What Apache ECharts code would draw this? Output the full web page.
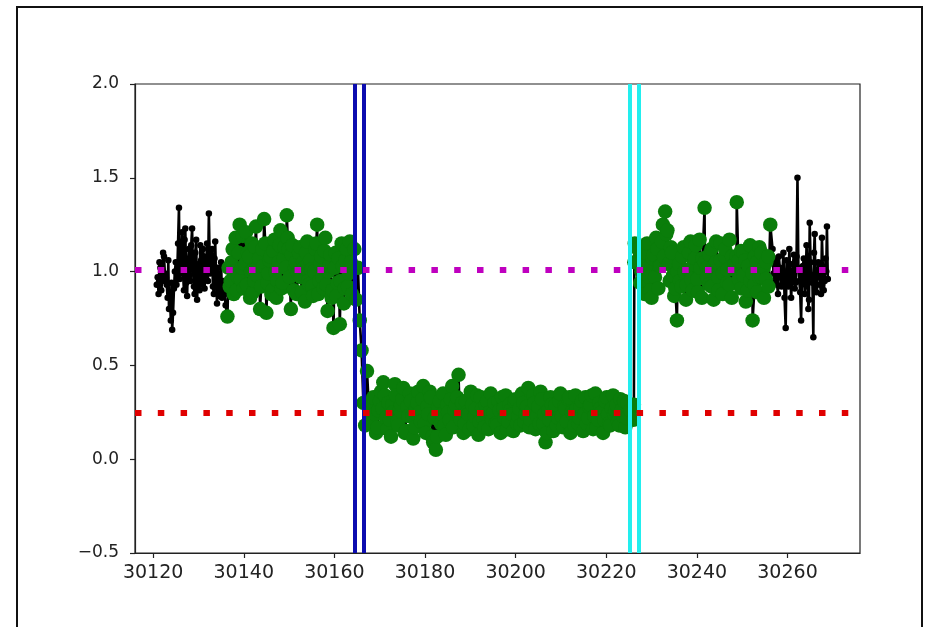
<!DOCTYPE html>
<html>
<head>
<meta charset="utf-8">
<script src="https://cdn.jsdelivr.net/npm/echarts@6/dist/echarts.min.js"></script>
<style>
html,body{margin:0;padding:0;background:#fff;}
#chart{width:940px;height:627px;}
</style>
</head>
<body>
<div id="chart"></div>
<script>
// ---- data ----
// black-only points before the green window
const preTime = [30120.8,30121.2,30121.6,30122.0,30122.4,30122.8,30123.2,30123.5,30123.9,30124.2,30124.6,30125.0,30125.3,30125.7,30126.0,30126.4,30126.8,30127.1,30127.5,30127.9,30128.2,30128.6,30129.0,30129.3,30129.7,30130.1,30130.4,30130.8,30131.2,30131.5,30131.9,30132.3,30132.6,30133.0,30133.4,30133.7,30134.1,30134.5,30134.8,30135.2,30135.6,30136.0];
const preFlux = [0.93,0.88,1.02,0.95,1.08,0.97,0.86,0.80,0.74,0.69,0.91,1.05,0.98,1.34,1.02,1.21,0.90,1.23,0.87,1.12,0.95,1.23,0.92,1.10,0.85,1.04,1.14,0.93,1.08,0.98,1.15,1.31,0.99,1.12,0.88,1.16,0.83,0.97,0.90,0.86,0.95,0.82];
const preTime2 = [30121.0,30121.4,30121.8,30122.2,30122.6,30123.0,30123.35,30123.7,30124.05,30124.4,30124.8,30125.15,30125.5,30125.85,30126.2,30126.6,30126.95,30127.3,30127.7,30128.05,30128.4,30128.8,30129.15,30129.5,30129.9,30130.25,30130.6,30131.0,30131.35,30131.7,30132.1,30132.45,30132.8,30133.2,30133.55,30133.9,30134.3,30134.65,30135.0,30135.4,30135.8];
const preFlux2 = [0.97,1.05,0.90,1.10,0.99,0.93,1.06,0.89,0.94,0.78,1.00,0.93,1.15,0.96,1.08,0.99,1.17,0.94,1.06,0.98,1.14,1.01,0.88,1.17,0.97,0.90,1.06,1.12,0.91,1.03,0.95,1.11,1.04,0.92,1.07,0.96,1.02,0.87,1.05,0.92,0.88];

// green window, out of transit before ingress (incl. ingress)
const outATime = [30136.4,30136.9,30137.3,30137.8,30138.2,30138.7,30139.1,30139.6,30140.0,30140.5,30140.9,30141.4,30141.8,30142.3,30142.7,30143.2,30143.6,30144.1,30144.5,30145.0,30145.4,30145.9,30146.3,30146.8,30147.2,30147.7,30148.1,30148.6,30149.0,30149.5,30149.9,30150.4,30150.8,30151.3,30151.7,30152.2,30152.6,30153.1,30153.5,30154.0,30154.4,30154.9,30155.3,30155.8,30156.2,30156.7,30157.1,30157.6,30158.0,30158.5,30158.9,30159.4,30159.8,30160.3,30160.7,30161.2,30161.6,30162.1,30162.5,30163.0,30163.4,30163.9,30164.4,30164.8,30165.2,30165.6,30166.0,30166.4,30166.8,30167.2];
const outAFlux = [0.76,0.92,1.05,0.88,1.18,0.97,1.25,1.02,0.91,1.21,1.10,0.86,1.15,0.95,1.24,1.03,0.80,1.12,1.28,0.78,0.99,1.08,0.90,1.17,0.86,1.05,1.22,0.94,1.13,1.30,1.12,0.80,1.14,1.02,0.88,1.10,0.97,1.05,0.84,1.16,0.93,1.01,0.87,1.12,1.25,0.95,1.08,0.91,1.18,0.79,1.03,0.86,0.70,1.10,0.94,0.72,1.15,0.83,1.06,0.92,1.16,0.88,1.12,0.85,1.02,0.74,0.58,0.30,0.18,0.47];
const outATime2 = [30136.65,30137.10,30137.55,30138.00,30138.45,30138.90,30139.35,30139.80,30140.25,30140.70,30141.15,30141.60,30142.05,30142.50,30142.95,30143.40,30143.85,30144.30,30144.75,30145.20,30145.65,30146.10,30146.55,30147.00,30147.45,30147.90,30148.35,30148.80,30149.25,30149.70,30150.15,30150.60,30151.05,30151.50,30151.95,30152.40,30152.85,30153.30,30153.75,30154.20,30154.65,30155.10,30155.55,30156.00,30156.45,30156.90,30157.35,30157.80,30158.25,30158.70,30159.15,30159.60,30160.05,30160.50,30160.95,30161.40,30161.85,30162.30,30162.75,30163.20,30163.65];
const outAFlux2 = [1.02,0.95,1.12,1.00,0.90,1.10,0.96,1.19,1.04,0.93,1.08,1.00,0.89,1.13,0.98,1.07,0.92,1.03,1.15,0.94,1.06,0.88,1.11,1.00,0.95,1.14,0.91,1.07,1.02,1.18,0.97,1.09,0.90,1.05,0.99,1.13,0.89,1.02,1.10,0.95,1.06,0.92,1.00,1.15,0.88,1.04,0.97,1.11,0.93,1.00,1.09,0.90,1.02,0.87,1.07,0.95,1.03,0.91,1.12,0.99,1.05];

// in transit (incl. egress)
const inTime = [30167.6,30168.1,30168.6,30169.2,30169.7,30170.3,30170.8,30171.4,30171.9,30172.5,30173.0,30173.6,30174.1,30174.7,30175.2,30175.8,30176.3,30176.9,30177.4,30178.0,30178.5,30179.1,30179.6,30180.2,30180.7,30181.3,30181.8,30182.4,30182.9,30183.5,30184.0,30184.6,30185.1,30185.7,30186.2,30186.8,30187.4,30187.9,30188.5,30189.0,30189.6,30190.1,30190.7,30191.2,30191.8,30192.3,30192.9,30193.4,30194.0,30194.5,30195.1,30195.6,30196.2,30196.7,30197.3,30197.8,30198.4,30198.9,30199.5,30200.0,30200.6,30201.1,30201.7,30202.2,30202.8,30203.3,30203.9,30204.4,30205.0,30205.5,30206.1,30206.6,30207.2,30207.7,30208.3,30208.8,30209.4,30209.9,30210.5,30211.0,30211.6,30212.1,30212.7,30213.2,30213.8,30214.3,30214.9,30215.4,30216.0,30216.5,30217.1,30217.6,30218.2,30218.7,30219.3,30219.8,30220.4,30220.9,30221.5,30222.0,30222.6,30223.1,30223.7,30224.2,30224.7,30225.3,30226.0,30226.1,30226.2,30226.3];
const inFlux = [0.28,0.19,0.33,0.14,0.26,0.36,0.41,0.22,0.30,0.12,0.25,0.34,0.18,0.29,0.38,0.15,0.23,0.31,0.11,0.27,0.36,0.20,0.39,0.14,0.24,0.33,0.09,0.05,0.28,0.19,0.35,0.13,0.25,0.32,0.17,0.29,0.45,0.21,0.14,0.31,0.24,0.36,0.18,0.27,0.13,0.33,0.22,0.29,0.16,0.35,0.25,0.19,0.31,0.14,0.27,0.34,0.20,0.26,0.15,0.32,0.23,0.18,0.30,0.24,0.38,0.21,0.34,0.16,0.28,0.36,0.19,0.09,0.26,0.33,0.15,0.29,0.22,0.35,0.17,0.27,0.32,0.14,0.24,0.34,0.19,0.28,0.15,0.33,0.22,0.29,0.16,0.35,0.21,0.27,0.14,0.31,0.24,0.18,0.34,0.26,0.20,0.32,0.23,0.17,0.30,0.26,0.21,0.29,1.05,1.15];
const inTime2 = [30167.85,30168.40,30168.95,30169.50,30170.05,30170.60,30171.15,30171.70,30172.25,30172.80,30173.35,30173.90,30174.45,30175.00,30175.55,30176.10,30176.65,30177.20,30177.75,30178.30,30178.85,30179.40,30179.95,30180.50,30181.05,30181.60,30182.15,30182.70,30183.25,30183.80,30184.35,30184.90,30185.45,30186.00,30186.55,30187.10,30187.65,30188.20,30188.75,30189.30,30189.85,30190.40,30190.95,30191.50,30192.05,30192.60,30193.15,30193.70,30194.25,30194.80,30195.35,30195.90,30196.45,30197.00,30197.55,30198.10,30198.65,30199.20,30199.75,30200.30,30200.85,30201.40,30201.95,30202.50,30203.05,30203.60,30204.15,30204.70,30205.25,30205.80,30206.35,30206.90,30207.45,30208.00,30208.55,30209.10,30209.65,30210.20,30210.75,30211.30,30211.85,30212.40,30212.95,30213.50,30214.05,30214.60,30215.15,30215.70,30216.25,30216.80,30217.35,30217.90,30218.45,30219.00,30219.55,30220.10,30220.65,30221.20,30221.75,30222.30,30222.85,30223.40,30223.95,30224.50];
const inFlux2 = [0.22,0.30,0.24,0.17,0.31,0.27,0.34,0.16,0.21,0.29,0.40,0.20,0.26,0.32,0.14,0.28,0.35,0.23,0.17,0.30,0.25,0.32,0.19,0.28,0.36,0.12,0.22,0.12,0.31,0.24,0.18,0.29,0.21,0.39,0.26,0.33,0.23,0.30,0.19,0.25,0.16,0.29,0.23,0.34,0.20,0.27,0.17,0.31,0.25,0.21,0.30,0.18,0.26,0.33,0.22,0.16,0.29,0.24,0.31,0.19,0.27,0.35,0.20,0.28,0.17,0.26,0.30,0.23,0.19,0.32,0.24,0.14,0.21,0.29,0.26,0.18,0.31,0.23,0.28,0.20,0.33,0.25,0.18,0.27,0.22,0.31,0.24,0.19,0.28,0.34,0.23,0.17,0.30,0.25,0.21,0.33,0.19,0.27,0.24,0.29,0.18,0.26,0.31,0.22];

// green window, out of transit after egress
const outBTime = [30227.0,30227.5,30228.0,30228.5,30229.0,30229.5,30230.0,30230.5,30231.0,30231.5,30232.0,30232.5,30233.0,30233.5,30234.0,30234.5,30235.0,30235.6,30236.1,30236.6,30237.1,30237.6,30238.1,30238.6,30239.1,30239.6,30240.1,30240.6,30241.1,30241.7,30242.2,30242.7,30243.2,30243.7,30244.2,30244.7,30245.2,30245.7,30246.2,30246.7,30247.2,30247.7,30248.2,30248.8,30249.3,30249.8,30250.3,30250.8,30251.3,30251.8,30252.3,30252.8,30253.3,30253.8,30254.3,30254.8,30255.3,30255.8,30256.2];
const outBFlux = [1.12,0.94,1.06,0.88,1.15,0.97,0.86,1.09,1.18,0.91,1.03,1.25,1.32,1.22,0.95,1.10,0.87,0.74,1.04,0.92,1.13,0.85,1.01,1.16,0.90,1.07,0.96,1.17,0.86,1.34,1.02,0.93,1.12,0.85,1.05,0.97,1.15,0.88,1.08,0.94,1.17,0.86,1.01,1.37,1.06,0.91,1.10,0.84,1.03,0.95,0.74,1.08,0.89,1.13,0.97,0.86,1.05,0.92,1.25];
const outBTime2 = [30227.25,30227.75,30228.25,30228.75,30229.25,30229.75,30230.25,30230.75,30231.25,30231.75,30232.25,30232.75,30233.25,30233.75,30234.25,30234.75,30235.25,30235.75,30236.25,30236.75,30237.25,30237.75,30238.25,30238.75,30239.25,30239.75,30240.25,30240.75,30241.25,30241.75,30242.25,30242.75,30243.25,30243.75,30244.25,30244.75,30245.25,30245.75,30246.25,30246.75,30247.25,30247.75,30248.25,30248.75,30249.25,30249.75,30250.25,30250.75,30251.25,30251.75,30252.25,30252.75,30253.25,30253.75,30254.25,30254.75,30255.25,30255.75];
const outBFlux2 = [1.05,1.00,0.92,1.10,1.02,0.90,1.07,0.97,1.12,1.03,1.16,1.08,1.20,1.04,1.13,0.98,0.91,1.00,0.95,1.08,1.00,0.93,1.10,0.96,1.04,1.14,0.89,1.02,1.07,1.05,0.97,1.09,0.92,1.03,1.16,0.90,1.06,0.99,1.12,1.01,0.93,1.08,1.04,1.08,0.96,1.11,0.98,1.06,0.90,1.14,0.99,0.93,1.05,0.97,1.10,1.02,0.96,1.08];

// black-only points after the green window
const postTime = [30256.7,30257.1,30257.5,30257.9,30258.3,30258.7,30259.1,30259.6,30260.0,30260.4,30260.8,30261.2,30261.6,30262.0,30262.2,30262.6,30263.0,30263.4,30263.8,30264.2,30264.6,30264.9,30265.3,30265.7,30266.0,30266.4,30266.8,30267.2,30267.6,30268.0,30268.4,30268.7,30268.9];
const postFlux = [1.12,0.95,1.07,0.88,1.02,0.92,1.10,0.70,0.98,1.12,0.86,1.04,0.91,1.08,1.50,0.95,0.74,1.03,0.88,1.14,0.80,1.26,0.97,0.65,1.20,0.89,1.05,0.93,1.18,0.90,1.07,1.24,0.96];
const postTime2 = [30256.9,30257.3,30257.7,30258.1,30258.5,30258.9,30259.35,30259.8,30260.2,30260.6,30261.0,30261.4,30261.8,30262.4,30262.8,30263.2,30263.6,30264.0,30264.4,30264.75,30265.1,30265.5,30265.85,30266.2,30266.6,30267.0,30267.4,30267.8,30268.2,30268.55];
const postFlux2 = [0.99,1.04,0.93,1.08,0.97,1.01,0.86,1.06,0.92,1.00,0.96,1.09,0.94,1.02,0.89,0.98,1.07,0.93,1.00,0.85,1.05,0.94,1.10,0.92,0.99,1.04,0.88,1.02,0.95,1.00];

// reference lines
const ingressLines = [30164.5, 30166.5];
const egressLines = [30225.2, 30227.1];
const baselineLevel = 1.01;
const transitLevel = 0.25;

// tick labels
const xTicks = [30120,30140,30160,30180,30200,30220,30240,30260];
const xRange = [30116, 30276];
const yRange = [-0.5, 2.0];

// ---- build ----
const zip = (t, f) => t.map((v, i) => [v, f[i]]);
const byTime = (a, b) => a[0] - b[0];
const greenPts = [].concat(
  zip(outATime, outAFlux), zip(outATime2, outAFlux2),
  zip(inTime, inFlux), zip(inTime2, inFlux2),
  zip(outBTime, outBFlux), zip(outBTime2, outBFlux2)
).sort(byTime);
const allPts = [].concat(
  zip(preTime, preFlux), zip(preTime2, preFlux2),
  greenPts,
  zip(postTime, postFlux), zip(postTime2, postFlux2)
).sort(byTime);

const FONT = 'DejaVu Sans';
const chart = echarts.init(document.getElementById('chart'), null, {renderer: 'canvas'});

const vLine = (x, color) => ({xAxis: x, lineStyle: {color: color, width: 4, type: 'solid'}});
const hLine = (y, color) => ({yAxis: y, lineStyle: {color: color, width: 6, type: [6.5, 16.3], cap: 'butt'}});

chart.setOption({
  animation: false,
  backgroundColor: '#fff',
  grid: {left: 135, right: 80, top: 84, bottom: 74, show: true, borderColor: '#222', borderWidth: 1.2, backgroundColor: 'transparent'},
  xAxis: {
    type: 'value', min: xRange[0], max: xRange[1],
    splitLine: {show: false},
    axisLine: {show: true, onZero: false, lineStyle: {color: '#222', width: 1.2}},
    axisTick: {show: true, length: 5, customValues: xTicks, lineStyle: {color: '#222', width: 1.2}},
    axisLabel: {customValues: xTicks, color: '#222', fontFamily: FONT, fontSize: 19, margin: 11, formatter: v => String(v)}
  },
  yAxis: {
    type: 'value', min: yRange[0], max: yRange[1], interval: 0.5,
    splitLine: {show: false},
    axisLine: {show: true, onZero: false, lineStyle: {color: '#222', width: 1.2}},
    axisTick: {show: true, length: 5, lineStyle: {color: '#222', width: 1.2}},
    axisLabel: {color: '#222', fontFamily: FONT, fontSize: 17, margin: 16, formatter: v => v.toFixed(1).replace('-', '\u2212')}
  },
  graphic: [{type: 'rect', shape: {x: 17, y: 7, width: 905, height: 640}, style: {fill: 'none', stroke: '#111', lineWidth: 2}, silent: true}],
  series: [
    {
      name: 'all', type: 'line', data: allPts, z: 2,
      symbol: 'circle', symbolSize: 6.5, showSymbol: true, showAllSymbol: true,
      lineStyle: {color: '#000', width: 2.6},
      itemStyle: {color: '#000'},
      silent: true
    },
    {
      name: 'window', type: 'scatter', data: greenPts, z: 3,
      symbol: 'circle', symbolSize: 14.5,
      itemStyle: {color: '#0a7d0a', opacity: 1},
      silent: true,
      markLine: {
        silent: true, symbol: ['none', 'none'], label: {show: false}, z: 5,
        emphasis: {disabled: true},
        data: [
          vLine(ingressLines[0], '#0c0cb0'), vLine(ingressLines[1], '#0c0cb0'),
          vLine(egressLines[0], '#22eeee'), vLine(egressLines[1], '#22eeee'),
          hLine(baselineLevel, '#bf00bf'), hLine(transitLevel, '#e00000')
        ]
      }
    }
  ]
});
</script>
</body>
</html>
